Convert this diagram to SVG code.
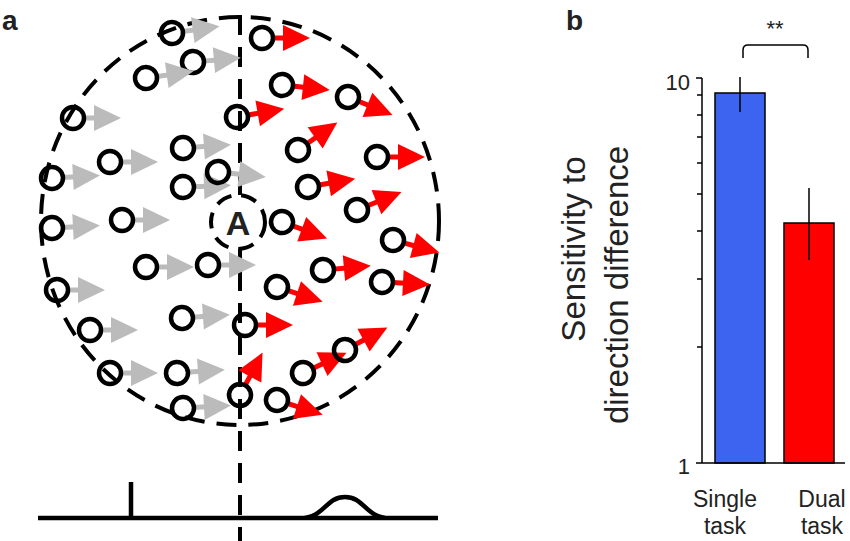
<svg xmlns="http://www.w3.org/2000/svg" width="850" height="541" viewBox="0 0 850 541">
<style>
.d{fill:none;stroke:#000;stroke-width:4.5}
.dash{fill:none;stroke:#000;stroke-width:4;stroke-dasharray:20 12}
.g{fill:#bbb}.r{fill:#f00}
.gs{stroke:#bbb;stroke-width:5}.rs{stroke:#f00;stroke-width:5}
text{font-family:"Liberation Sans",Arial,sans-serif;fill:#222}
</style>
<defs>
<g id="ga"><path class="gs" d="M10 0H24"/><path class="g" d="M21 -13L48 0L21 13Z"/><circle class="d" r="11"/></g>
<g id="ra"><path class="rs" d="M10 0H24"/><path class="r" d="M21 -13L48 0L21 13Z"/><circle class="d" r="11"/></g>
</defs>
<rect width="850" height="541" fill="#fff"/>
<g id="panel-a">
<text x="2" y="30" font-size="28" font-weight="bold">a</text>
<ellipse class="dash" cx="240" cy="221" rx="199" ry="204"/>
<path class="dash" d="M240 15V541"/>
<g id="gray">
<use href="#ga" transform="translate(172,33) rotate(-8)"/>
<use href="#ga" transform="translate(193,62) rotate(-5)"/>
<use href="#ga" transform="translate(146,78) rotate(-8)"/>
<use href="#ga" transform="translate(73,118)"/>
<use href="#ga" transform="translate(183,148) rotate(-4)"/>
<use href="#ga" transform="translate(110,162)"/>
<use href="#ga" transform="translate(52,178) rotate(-3)"/>
<use href="#ga" transform="translate(183,187) rotate(-2)"/>
<use href="#ga" transform="translate(218,172) rotate(6)"/>
<use href="#ga" transform="translate(122,220)"/>
<use href="#ga" transform="translate(52,228) rotate(-3)"/>
<use href="#ga" transform="translate(146,267)"/>
<use href="#ga" transform="translate(208,265)"/>
<use href="#ga" transform="translate(57,290)"/>
<use href="#ga" transform="translate(182,318) rotate(-4)"/>
<use href="#ga" transform="translate(90,330)"/>
<use href="#ga" transform="translate(110,373)"/>
<use href="#ga" transform="translate(177,373) rotate(-4)"/>
<use href="#ga" transform="translate(183,408) rotate(-3)"/>
</g>
<g id="red">
<use href="#ra" transform="translate(262,38)"/>
<use href="#ra" transform="translate(282,85) rotate(6)"/>
<use href="#ra" transform="translate(348,97) rotate(22)"/>
<use href="#ra" transform="translate(237,117) rotate(-10)"/>
<use href="#ra" transform="translate(298,150) rotate(-35)"/>
<use href="#ra" transform="translate(377,157)"/>
<use href="#ra" transform="translate(308,187) rotate(-10)"/>
<use href="#ra" transform="translate(357,210) rotate(-22)"/>
<use href="#ra" transform="translate(282,222) rotate(20)"/>
<use href="#ra" transform="translate(393,240) rotate(15)"/>
<use href="#ra" transform="translate(323,270) rotate(-5)"/>
<use href="#ra" transform="translate(382,282) rotate(3)"/>
<use href="#ra" transform="translate(277,287) rotate(18)"/>
<use href="#ra" transform="translate(245,325)"/>
<use href="#ra" transform="translate(303,373) rotate(-25)"/>
<use href="#ra" transform="translate(345,350) rotate(-28)"/>
<use href="#ra" transform="translate(240,395) rotate(-62)"/>
<use href="#ra" transform="translate(277,400) rotate(18)"/>
</g>
<circle cx="238" cy="222" r="27" fill="#fff" stroke="#000" stroke-width="4" stroke-dasharray="16 10"/>
<text x="238" y="235" font-size="34" font-weight="bold" text-anchor="middle">A</text>
<path class="d" d="M38 518H438M131 518V482M300 518C325 518 325 497 345 497C365 497 365 518 390 518"/>
</g>
<g id="panel-b">
<text x="566" y="30" font-size="28" font-weight="bold">b</text>
<rect x="715" y="93" width="50" height="370" fill="#3c64f0" stroke="#000" stroke-width="1.5"/>
<rect x="784" y="223" width="50" height="240" fill="#f00" stroke="#000" stroke-width="1.5"/>
<path d="M702 78V463H845M696 78H702M696 463H702M697 347H702M697 279H702M697 231H702M697 194H702M697 163H702M697 137H702M697 115H702M697 95H702M740 77V112M809 188V260" stroke="#000" stroke-width="1.5" fill="none"/>
<path d="M743 58V50Q743 45 748 45H803Q808 45 808 50V58" stroke="#000" stroke-width="1.5" fill="none"/>
<text x="775" y="36" font-size="22" text-anchor="middle">**</text>
<text x="690" y="90" font-size="22" text-anchor="end">10</text>
<text x="690" y="474" font-size="22" text-anchor="end">1</text>
<g transform="translate(585,249) rotate(-90)"><text font-size="33" text-anchor="middle">Sensitivity to</text></g>
<g transform="translate(628,285) rotate(-90)"><text font-size="33" text-anchor="middle">direction difference</text></g>
<text x="725" y="507" font-size="23" text-anchor="middle">Single</text>
<text x="725" y="534" font-size="23" text-anchor="middle">task</text>
<text x="822" y="507" font-size="23" text-anchor="middle">Dual</text>
<text x="822" y="534" font-size="23" text-anchor="middle">task</text>
</g>
</svg>
